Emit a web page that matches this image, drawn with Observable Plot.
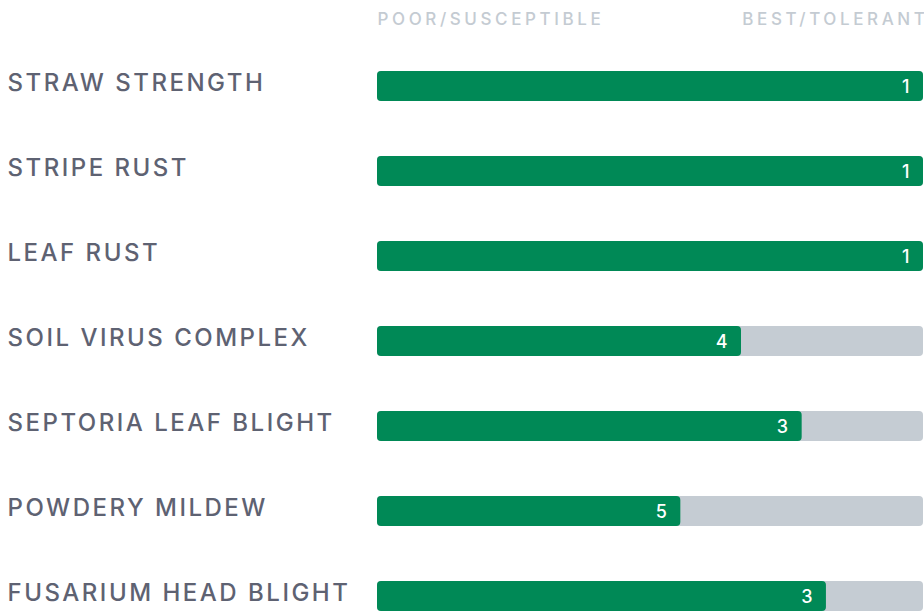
<!DOCTYPE html>
<html>
<head>
<meta charset="utf-8">
<script src="https://cdn.jsdelivr.net/npm/d3@7"></script>
<script src="https://cdn.jsdelivr.net/npm/@observablehq/plot@0.6"></script>
<style>
  html, body { margin: 0; padding: 0; background: #fff; overflow: hidden; }
  #chart svg { overflow: visible; display: block; }
  #chart g[fill="#5E6272"] { letter-spacing: 2.5px; }
  #chart g[fill="#C4CBD2"] { letter-spacing: 3.6px; }
</style>
</head>
<body>
<div id="chart"></div>
<script>
const traits = ["STRAW STRENGTH", "STRIPE RUST", "LEAF RUST", "SOIL VIRUS COMPLEX", "SEPTORIA LEAF BLIGHT", "POWDERY MILDEW", "FUSARIUM HEAD BLIGHT"];
const ratings = [1, 1, 1, 4, 3, 5, 2.6];
const ratingLabels = ["1", "1", "1", "4", "3", "5", "3"];
const scaleEnds = [10, 1];
const scaleEndLabels = ["POOR/SUSCEPTIBLE", "BEST/TOLERANT"];

const rows = traits.map((t, i) => ({trait: t, rating: ratings[i], label: ratingLabels[i], low: scaleEnds[0], high: scaleEnds[1]}));
const ends = scaleEnds.map((v, i) => ({x: v, label: scaleEndLabels[i]}));

const font = "Inter, Lato, sans-serif";

const plot = Plot.plot({
  width: 924,
  height: 611,
  marginLeft: 377,
  marginRight: 1,
  marginTop: 71,
  marginBottom: 0,
  style: {fontFamily: font, background: "#fff", overflow: "visible"},
  x: {domain: scaleEnds, axis: null},
  y: {domain: traits, paddingInner: 0.647, paddingOuter: 0, round: false, axis: null},
  marks: [
    Plot.barX(rows, {y: "trait", x1: "low", x2: "high", fill: "#C5CCD3", rx: 4}),
    Plot.barX(rows, {y: "trait", x1: "low", x2: "rating", fill: "#008956", rx: 4}),
    Plot.text(rows, {y: "trait", x: "rating", text: "label", textAnchor: "end", dx: -14, dy: 1, fill: "#fff", fontSize: 18, fontWeight: 500, fontFamily: font}),
    Plot.text(rows, {y: "trait", frameAnchor: "left", text: "trait", textAnchor: "start", dx: -370, dy: -3, fill: "#5E6272", fontSize: 24, fontWeight: 500, fontFamily: font}),
    Plot.text([ends[0]], {x: "x", frameAnchor: "top", lineAnchor: "middle", dy: -51.5, text: "label", textAnchor: "start", fill: "#C4CBD2", fontSize: 17, fontWeight: 500, fontFamily: font}),
    Plot.text([ends[1]], {x: "x", frameAnchor: "top", lineAnchor: "middle", dy: -51.5, text: "label", textAnchor: "end", dx: 5, fill: "#C4CBD2", fontSize: 17, fontWeight: 500, fontFamily: font})
  ]
});
document.getElementById("chart").appendChild(plot);
</script>
</body>
</html>
